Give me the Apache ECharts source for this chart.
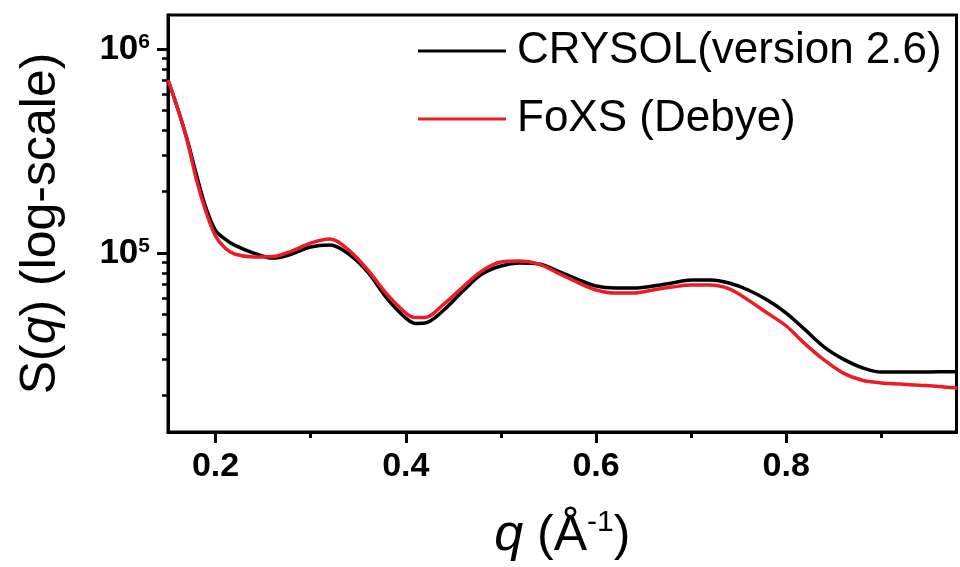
<!DOCTYPE html>
<html>
<head>
<meta charset="utf-8">
<script src="https://cdn.jsdelivr.net/npm/echarts@6/dist/echarts.min.js"></script>
<style>html,body{margin:0;padding:0;background:#fff}#c{width:960px;height:567px}</style>
</head>
<body>
<div id="c"></div>
<script>
var qValues = [0.15,0.16,0.17,0.18,0.19,0.20,0.21,0.22,0.24,0.26,0.28,0.30,0.32,0.34,0.36,0.38,0.40,0.41,0.42,0.44,0.46,0.48,0.50,0.52,0.54,0.56,0.58,0.60,0.62,0.64,0.66,0.68,0.70,0.72,0.74,0.76,0.78,0.80,0.82,0.84,0.86,0.88,0.90,0.92,0.94,0.96,0.98];
var crysol = [705000,514000,362000,241000,166200,129000,117100,109400,100000,94500,98900,107000,109400,98900,80700,60200,48000,45200,45400,52600,65100,78900,86400,89300,88300,81600,74600,68900,67400,67400,68900,71300,73800,73800,71300,65900,58800,50800,42000,34600,30200,27400,26100,26100,26100,26200,26200];
var foxs = [705000,514000,358000,228000,159000,121000,105800,98900,95600,96100,102300,111900,117100,103400,82600,63000,50800,48300,48300,56200,68100,81600,90300,91400,88300,79800,72100,65900,63700,63700,65900,68100,69700,69700,66700,58800,50800,43900,35800,29900,25800,23800,23100,22800,22500,22200,21800];
var xMajor = [0.2,0.4,0.6,0.8];
var xMinor = [0.3,0.5,0.7,0.9];
var yMajor = [1e5,1e6];
var yMinor = [2e4,3e4,4e4,5e4,6e4,7e4,8e4,9e4,2e5,3e5,4e5,5e5,6e5,7e5,8e5,9e5];
var seriesNames = ['CRYSOL(version 2.6)','FoXS (Debye)'];

var FONT = '"Liberation Sans", Arial, sans-serif';
function pairs(xs, ys){ return xs.map(function(x,i){ return [x, ys[i]]; }); }

var chart = echarts.init(document.getElementById('c'), null, {renderer:'canvas'});
var yMin = Math.pow(10, 4.123), yMax = Math.pow(10, 6.1667);
chart.setOption({
  animation:false,
  backgroundColor:'#fff',
  grid:{left:168, right:3.5, top:15, bottom:135, show:true, borderColor:'#000', borderWidth:3, containLabel:false},
  legend:{
    orient:'vertical', left:413, top:22, itemWidth:88, itemHeight:3, itemGap:20, icon:'rect',
    textStyle:{fontFamily:FONT, fontSize:44, lineHeight:48, color:'#000', padding:[0,0,0,6]},
    data:seriesNames
  },
  xAxis:[{
    type:'value', min:0.15, max:0.979, gridIndex:0,
    name:'{i|q}{n| (Å}{s|-1}{n|)}', nameLocation:'middle', nameGap:76,
    nameTextStyle:{rich:{
      i:{fontFamily:FONT, fontSize:52, fontStyle:'italic', color:'#000', lineHeight:56},
      n:{fontFamily:FONT, fontSize:50, color:'#000', lineHeight:56},
      s:{fontFamily:FONT, fontSize:30, color:'#000', verticalAlign:'top', lineHeight:30}
    }},
    axisLine:{show:true, onZero:false, lineStyle:{color:'#000', width:3}},
    axisTick:{show:true, inside:false, length:11, lineStyle:{color:'#000', width:3}, customValues:xMajor},
    axisLabel:{show:true, margin:18, customValues:xMajor, fontFamily:FONT, fontSize:34, fontWeight:'bold', color:'#000',
      formatter:function(v){ return v.toFixed(1); }},
    splitLine:{show:false}
  },{
    type:'value', min:0.15, max:0.979, gridIndex:0, position:'bottom',
    axisLine:{show:false},
    axisTick:{show:true, inside:false, length:6, lineStyle:{color:'#000', width:3}, customValues:xMinor},
    axisLabel:{show:false},
    splitLine:{show:false}
  }],
  yAxis:[{
    type:'log', logBase:10, min:yMin, max:yMax, gridIndex:0, position:'left',
    name:'{n|S(}{i|q}{n|) (log-scale)}', nameLocation:'middle', nameGap:100,
    nameTextStyle:{rich:{
      i:{fontFamily:FONT, fontSize:50, fontStyle:'italic', color:'#000', lineHeight:54},
      n:{fontFamily:FONT, fontSize:50, color:'#000', lineHeight:54}
    }},
    axisLine:{show:true, onZero:false, lineStyle:{color:'#000', width:3}},
    axisTick:{show:true, inside:false, length:11, lineStyle:{color:'#000', width:3}, customValues:yMajor},
    axisLabel:{show:true, margin:18, customValues:yMajor,
      formatter:function(v){ return '{b|10}{s|' + Math.round(Math.log10(v)) + '}'; },
      rich:{
        b:{fontFamily:FONT, fontSize:35, fontWeight:'bold', color:'#000', lineHeight:35},
        s:{fontFamily:FONT, fontSize:21, fontWeight:'bold', color:'#000', verticalAlign:'top', lineHeight:21}
      }},
    splitLine:{show:false}
  },{
    type:'log', logBase:10, min:yMin, max:yMax, gridIndex:0, position:'left',
    axisLine:{show:false},
    axisTick:{show:true, inside:false, length:6, lineStyle:{color:'#000', width:2.5}, customValues:yMinor},
    axisLabel:{show:false},
    splitLine:{show:false}
  }],
  series:[{
    name:seriesNames[0], type:'line', xAxisIndex:0, yAxisIndex:0, data:pairs(qValues, crysol),
    showSymbol:false, smooth:0.35, color:'#000', lineStyle:{color:'#000', width:3.5}, z:2
  },{
    name:seriesNames[1], type:'line', xAxisIndex:0, yAxisIndex:0, data:pairs(qValues, foxs),
    showSymbol:false, smooth:0.35, color:'#ec1c24', lineStyle:{color:'#ec1c24', width:3.5}, z:3
  }]
});
</script>
</body>
</html>
